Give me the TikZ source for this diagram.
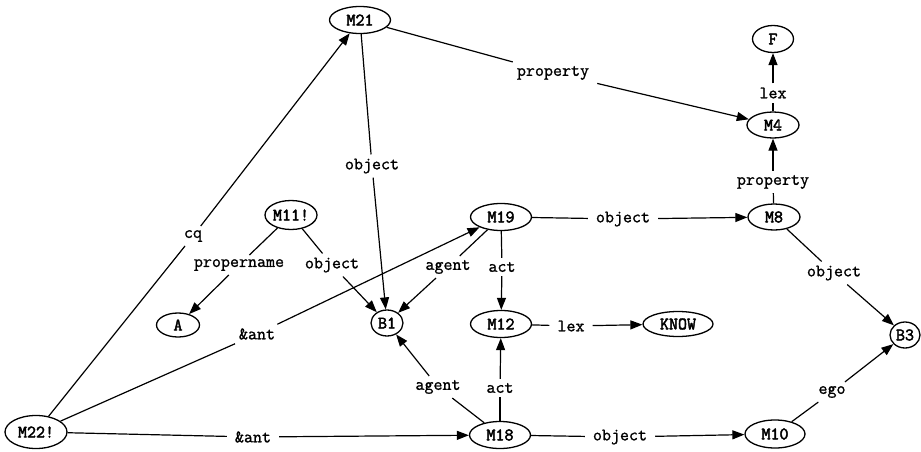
\documentclass[tikz,border=0pt]{standalone}
\usepackage{fontspec}
\newfontfamily\lmlab[FakeBold=1.2]{Latin Modern Mono}
\newfontfamily\lmnode[FakeBold=2.6]{Latin Modern Mono}
\usetikzlibrary{shapes.geometric,arrows.meta}
\begin{document}
\begin{tikzpicture}[x=1pt,y=-1pt,
  nd/.style={draw,ellipse,line width=1.3pt,inner sep=0pt,minimum width=61pt,minimum height=27pt,font=\lmnode\fontsize{17.5}{20}\selectfont},
  lb/.style={inner xsep=8pt,inner ysep=4pt,font=\lmlab\fontsize{17.5}{20}\selectfont},
  ed/.style={line width=1.2pt},
  ar/.style={line width=1.2pt,-{Triangle[length=12pt,width=9pt]}}]
\useasboundingbox (0,0) rectangle (921,452);
% nodes
\node[nd] (M21) at (360,20) {M21};
\node[nd,minimum width=41pt] (F) at (773,39) {F};
\node[nd,minimum width=52pt,minimum height=26pt] (M4) at (773,125) {M4};
\node[nd,minimum width=52pt,minimum height=26pt] (M8) at (774,217) {M8};
\node[nd] (M19) at (501,217) {M19};
\node[nd,minimum width=52pt,minimum height=29pt] (M11) at (291,215) {M11!};
\node[nd,minimum width=43pt,minimum height=24pt] (A) at (178,325) {A};
\node[nd,minimum width=32pt,minimum height=26pt] (B1) at (387,323) {B1};
\node[nd] (M12) at (501,324) {M12};
\node[nd,minimum width=70pt,minimum height=25pt] (KNOW) at (678,324) {KNOW};
\node[nd,minimum width=30pt,minimum height=26pt] (B3) at (905,335) {B3};
\node[nd,minimum width=62pt,minimum height=33pt] (M22) at (36,432) {M22!};
\node[nd] (M18) at (500,435) {M18};
\node[nd,minimum width=60pt,minimum height=28pt] (M10) at (775,434) {M10};
% labels
\node[lb] (l1) at (372,166) {object};
\node[lb] (l2) at (553,73) {property};
\node[lb] (l3) at (773,93) {lex};
\node[lb] (l4) at (773,182) {property};
\node[lb] (l5) at (193,236) {cq};
\node[lb] (l6) at (239,265) {propername};
\node[lb] (l7) at (332,265) {object};
\node[lb] (l8) at (448,267) {agent};
\node[lb] (l9) at (502,267) {act};
\node[lb] (l10) at (257,334) {\&ant};
\node[lb] (l11) at (253,437) {\&ant};
\node[lb] (l12) at (438,387) {agent};
\node[lb] (l13) at (500,388) {act};
\node[lb] (l14) at (623,219) {object};
\node[lb] (l15) at (571,326) {lex};
\node[lb] (l16) at (834,273) {object};
\node[lb] (l17) at (832,392) {ego};
\node[lb] (l18) at (620,437) {object};
% edges
\draw[ed] (M22) -- (l5);  \draw[ar] (l5) -- (M21);
\draw[ed] (M21) -- (l1);  \draw[ar] (l1) -- (B1);
\draw[ed] (M21) -- (l2);  \draw[ar] (l2) -- (M4);
\draw[ed] (M4) -- (l3);   \draw[ar] (l3) -- (F);
\draw[ed] (M8) -- (l4);   \draw[ar] (l4) -- (M4);
\draw[ed] (M11) -- (l6);  \draw[ar] (l6) -- (A);
\draw[ed] (M11) -- (l7);  \draw[ar] (l7) -- (B1);
\draw[ed] (M19) -- (l8);  \draw[ar] (l8) -- (B1);
\draw[ed] (M19) -- (l9);  \draw[ar] (l9) -- (M12);
\draw[ed] (M19) -- (l14); \draw[ar] (l14) -- (M8);
\draw[ed] (M22) -- (l10); \draw[ar] (l10) -- (M19);
\draw[ed] (M22) -- (l11); \draw[ar] (l11) -- (M18);
\draw[ed] (M18) -- (l12); \draw[ar] (l12) -- (B1);
\draw[ed] (M18) -- (l13); \draw[ar] (l13) -- (M12);
\draw[ed] (M18) -- (l18); \draw[ar] (l18) -- (M10);
\draw[ed] (M12) -- (l15); \draw[ar] (l15) -- (KNOW);
\draw[ed] (M8) -- (l16);  \draw[ar] (l16) -- (B3);
\draw[ed] (M10) -- (l17); \draw[ar] (l17) -- (B3);
\end{tikzpicture}
\end{document}
